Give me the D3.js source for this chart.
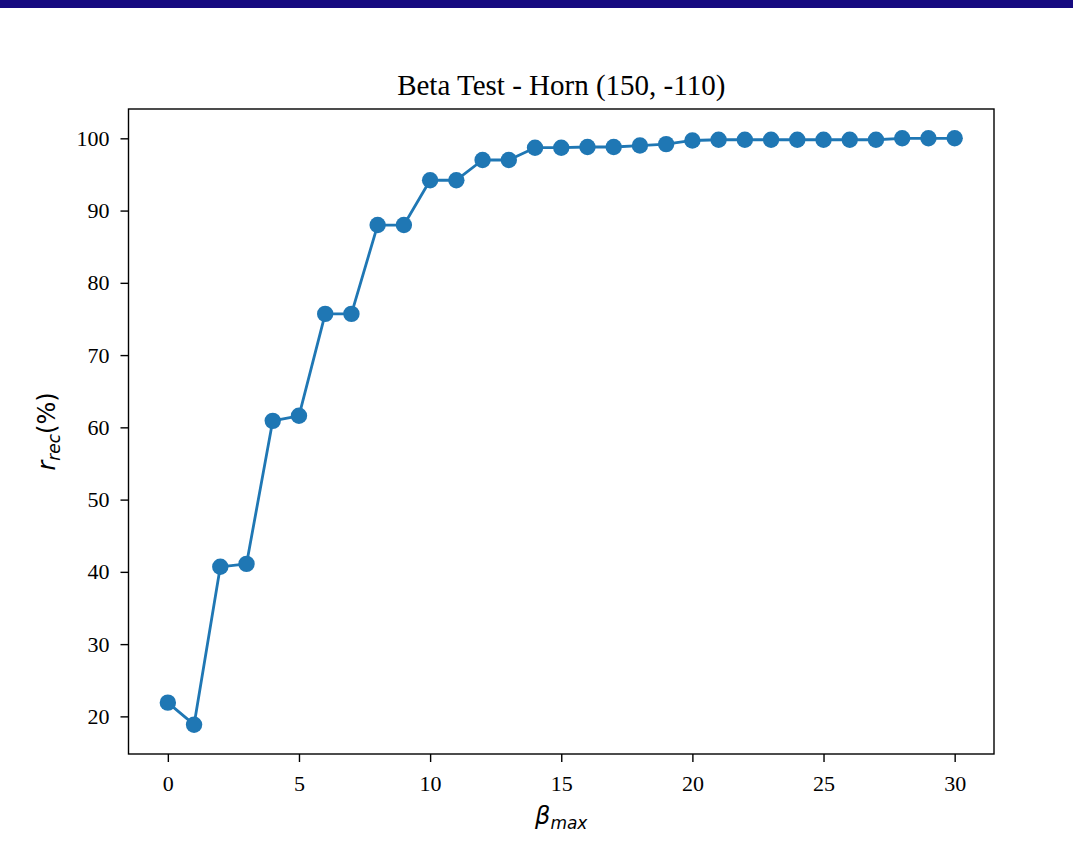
<!DOCTYPE html>
<html>
<head>
<meta charset="utf-8">
<script src="https://cdn.jsdelivr.net/npm/d3@7"></script>
<style>
  html, body { margin: 0; padding: 0; background: #ffffff; }
  svg { display: block; }
</style>
</head>
<body>
<script>
// Recovery rate against the beta limit, Horn test case (150, -110)
const betaMax = [0, 1, 2, 3, 4, 5, 6, 7, 8, 9, 10, 11, 12, 13, 14, 15, 16, 17, 18, 19, 20,
                 21, 22, 23, 24, 25, 26, 27, 28, 29, 30];
const recRate = [21.9, 18.85, 40.7, 41.1, 60.9, 61.6, 75.7, 75.7, 88.0, 88.0, 94.2, 94.2,
                 97.0, 97.0, 98.7, 98.7, 98.8, 98.8, 99.0, 99.2, 99.7, 99.8, 99.8, 99.8,
                 99.8, 99.8, 99.8, 99.8, 100.0, 100.0, 100.0];
const xTicks = [0, 5, 10, 15, 20, 25, 30];
const yTicks = [20, 30, 40, 50, 60, 70, 80, 90, 100];
const titleText = "Beta Test - Horn (150, -110)";

const W = 1073, H = 841;
const frame = { left: 128.5, right: 994, top: 109, bottom: 754 };
const serif = "'Liberation Serif', 'Times New Roman', serif";
const mathFont = "'DejaVu Sans', sans-serif";
const blue = "#1f77b4";

const svg = d3.select("body").append("svg")
  .attr("width", W).attr("height", H);

svg.append("rect").attr("width", W).attr("height", H).attr("fill", "#ffffff");
// header band
svg.append("rect").attr("x", 0).attr("y", 0).attr("width", W).attr("height", 8)
  .attr("fill", "#160a80");

// matplotlib-style 5% padding around the data range
const xMin = d3.min(betaMax), xMax = d3.max(betaMax);
const yMin = d3.min(recRate), yMax = d3.max(recRate);
const xPad = (xMax - xMin) * 0.05, yPad = (yMax - yMin) * 0.05;

const x = d3.scaleLinear().domain([xMin - xPad, xMax + xPad]).range([frame.left, frame.right]);
const y = d3.scaleLinear().domain([yMin - yPad, yMax + yPad]).range([frame.bottom, frame.top]);

// axes
const xAxis = d3.axisBottom(x).tickValues(xTicks).tickSize(8).tickPadding(13).tickFormat(d3.format("d"));
const yAxis = d3.axisLeft(y).tickValues(yTicks).tickSize(8).tickPadding(11).tickFormat(d3.format("d"));

const gx = svg.append("g").attr("transform", `translate(0,${frame.bottom})`).call(xAxis);
const gy = svg.append("g").attr("transform", `translate(${frame.left},0)`).call(yAxis);
[gx, gy].forEach(g => {
  g.select(".domain").remove();
  g.selectAll(".tick line").attr("stroke", "#000").attr("stroke-width", 1.4);
  g.selectAll(".tick text").attr("fill", "#000")
    .style("font-family", serif).style("font-size", "22px");
});

// data line and markers
const line = d3.line().x((d, i) => x(betaMax[i])).y(d => y(d));
svg.append("path").datum(recRate)
  .attr("fill", "none").attr("stroke", blue).attr("stroke-width", 2.8)
  .attr("stroke-linejoin", "round")
  .attr("d", line);

svg.append("g").selectAll("circle").data(recRate).join("circle")
  .attr("cx", (d, i) => x(betaMax[i]))
  .attr("cy", d => y(d))
  .attr("r", 8.2)
  .attr("fill", blue);

// frame
svg.append("rect")
  .attr("x", frame.left).attr("y", frame.top)
  .attr("width", frame.right - frame.left).attr("height", frame.bottom - frame.top)
  .attr("fill", "none").attr("stroke", "#000").attr("stroke-width", 1.4);

// title
svg.append("text")
  .attr("x", (frame.left + frame.right) / 2).attr("y", 95)
  .attr("text-anchor", "middle")
  .style("font-family", serif).style("font-size", "29px").attr("fill", "#000")
  .text(titleText);

// x label: beta_max
const xl = svg.append("text")
  .attr("x", (frame.left + frame.right) / 2).attr("y", 824)
  .attr("text-anchor", "middle")
  .style("font-family", mathFont).style("font-size", "24px").attr("fill", "#000");
xl.append("tspan").style("font-style", "italic").text("β");
xl.append("tspan").style("font-style", "italic").style("font-size", "17px").attr("dy", 5).text("max");

// y label: r_rec(%)
const yl = svg.append("text")
  .attr("transform", `translate(55,${(frame.top + frame.bottom) / 2}) rotate(-90)`)
  .attr("text-anchor", "middle")
  .style("font-family", mathFont).style("font-size", "24px").attr("fill", "#000");
yl.append("tspan").style("font-style", "italic").text("r");
yl.append("tspan").style("font-style", "italic").style("font-size", "17px").attr("dy", 5).text("rec");
yl.append("tspan").attr("dy", -5).text("(%)");
</script>
</body>
</html>
